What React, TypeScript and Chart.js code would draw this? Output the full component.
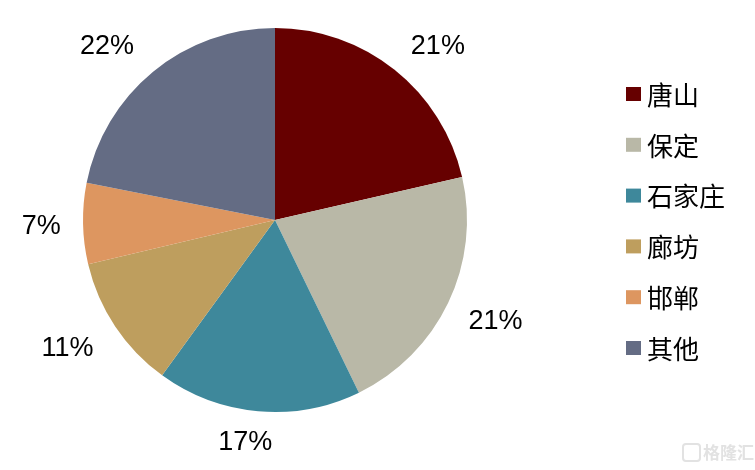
import React, { useEffect, useRef } from "react";
import { Chart, registerables } from "chart.js";

Chart.register(...registerables);

const categories = ["唐山", "保定", "石家庄", "廊坊", "邯郸", "其他"];
const shares = [21.4, 21.4, 17.2, 11.3, 6.8, 21.9];
const colors = ["#660000", "#B9B8A7", "#3E889B", "#BE9E5E", "#DD9660", "#646C84"];

const FONT_LATIN = "Liberation Sans, Arial, sans-serif";
const FONT_CJK = "'Noto Sans CJK SC', sans-serif";

// small per-label nudges (style only) to mimic the original label placement
const labelNudge: [number, number][] = [
  [15, 12],
  [3, -2],
  [-10, -2],
  [-8, -4],
  [-2, 2],
  [-17, 10],
];

const outsideLabels = {
  id: "outsideLabels",
  afterDatasetsDraw(chart: any) {
    const ctx = chart.ctx;
    const meta = chart.getDatasetMeta(0);
    const data = chart.data.datasets[0].data as number[];
    ctx.save();
    ctx.font = `27px ${FONT_LATIN}`;
    ctx.fillStyle = "#000";
    ctx.textAlign = "center";
    ctx.textBaseline = "middle";
    meta.data.forEach((arc: any, i: number) => {
      const { x, y, startAngle, endAngle, outerRadius } = arc.getProps(
        ["x", "y", "startAngle", "endAngle", "outerRadius"],
        true
      );
      const mid = (startAngle + endAngle) / 2;
      const text = `${Math.round(data[i])}%`;
      const hw = ctx.measureText(text).width / 2;
      const hh = 11;
      const c = Math.cos(mid);
      const s = Math.sin(mid);
      const d = outerRadius + 20 + hw * Math.abs(c) + hh * Math.abs(s);
      const n = labelNudge[i] || [0, 0];
      ctx.fillText(text, x + c * d + n[0], y + s * d + n[1]);
    });
    ctx.restore();
  },
};

const customLegend = {
  id: "customLegend",
  afterDraw(chart: any) {
    const ctx = chart.ctx;
    const labels = chart.data.labels as string[];
    const bg = chart.data.datasets[0].backgroundColor as string[];
    ctx.save();
    ctx.font = `26px ${FONT_CJK}`;
    ctx.textAlign = "left";
    ctx.textBaseline = "middle";
    labels.forEach((lab, i) => {
      const cy = 94 + i * 50.8;
      ctx.fillStyle = bg[i];
      ctx.fillRect(626, cy - 7, 15, 14);
      ctx.fillStyle = "#000";
      ctx.fillText(lab, 647, cy + 1);
    });
    // watermark
    ctx.strokeStyle = "#e2e2e2";
    ctx.lineWidth = 2;
    ctx.beginPath();
    ctx.roundRect(683, 444, 17, 17, 3);
    ctx.stroke();
    ctx.fillStyle = "#e2e2e2";
    ctx.font = `bold 17px ${FONT_CJK}`;
    ctx.fillText("格隆汇", 703, 453);
    ctx.restore();
  },
};

export default function App() {
  const ref = useRef<HTMLCanvasElement | null>(null);
  useEffect(() => {
    document.body.style.margin = "0";
    if (!ref.current) return;
    const chart = new Chart(ref.current, {
      type: "pie",
      data: {
        labels: categories,
        datasets: [
          {
            data: shares,
            backgroundColor: colors,
            borderWidth: 0,
          },
        ],
      },
      options: {
        responsive: false,
        animation: false,
        layout: { padding: { left: 83, right: 288, top: 28, bottom: 58 } },
        plugins: {
          legend: { display: false },
          tooltip: { enabled: false },
        },
      },
      plugins: [outsideLabels, customLegend],
    });
    return () => chart.destroy();
  }, []);
  return (
    <div style={{ width: 755, height: 470, background: "#fff" }}>
      <canvas ref={ref} width={755} height={470} />
    </div>
  );
}
